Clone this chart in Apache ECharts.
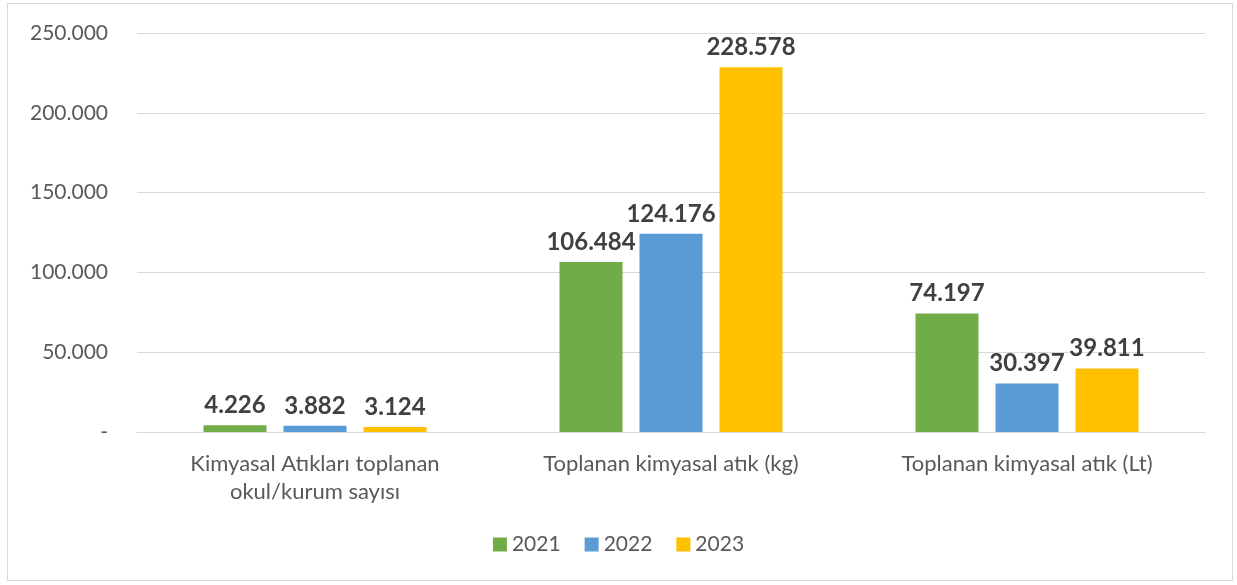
<!DOCTYPE html>
<html lang="tr">
<head>
    <meta charset="UTF-8"/>
    <title>Kimyasal atık</title>
    <script src="https://cdn.jsdelivr.net/npm/echarts@6/dist/echarts.min.js"></script>
    <style>
        body { margin: 0; background: #fff; }
        #frame {
            position: absolute; left: 7px; top: 3px; width: 1226px; height: 578px;
            border: 1px solid #d9d9d9; box-sizing: border-box;
        }
        #chart { position: absolute; left: 0; top: 0; width: 1237px; height: 585px; }
    </style>
</head>
<body>
<div id="frame"></div>
<div id="chart"></div>
<script>
    const categories = ['Kimyasal Atıkları toplanan\nokul/kurum sayısı', 'Toplanan kimyasal atık (kg)', 'Toplanan kimyasal atık (Lt)'];
    const years = ['2021', '2022', '2023'];
    const values2021 = [4226, 106484, 74197];
    const values2022 = [3882, 124176, 30397];
    const values2023 = [3124, 228578, 39811];
    const colors = ['#70ad47', '#5b9bd5', '#ffc000'];

    const font = 'Lato, "Open Sans", sans-serif';

    function fmt(v) {
        if (v === 0) return '-';
        return String(v).replace(/\B(?=(\d{3})+(?!\d))/g, '.');
    }

    const chart = echarts.init(document.getElementById('chart'));
    const seriesData = [values2021, values2022, values2023];
    chart.setOption({
        animation: false,
        textStyle: {fontFamily: font},
        grid: {left: 137, right: 32, top: 33, bottom: 153, containLabel: false},
        legend: {
            data: years,
            bottom: 25,
            left: 'center',
            itemWidth: 14,
            itemHeight: 14,
            itemGap: 24,
            icon: 'rect',
            textStyle: {fontSize: 21, color: '#595959', fontFamily: font}
        },
        xAxis: {
            type: 'category',
            data: categories,
            axisLine: {lineStyle: {color: '#d9d9d9'}},
            axisTick: {show: false},
            axisLabel: {fontSize: 22, color: '#595959', lineHeight: 28, margin: 18, fontFamily: font}
        },
        yAxis: {
            type: 'value',
            min: 0,
            max: 250000,
            interval: 50000,
            axisLine: {show: false},
            axisTick: {show: false},
            splitLine: {lineStyle: {color: '#d9d9d9'}},
            axisLabel: {fontSize: 21, color: '#595959', margin: 29, formatter: fmt, fontFamily: font}
        },
        series: years.map((y, i) => ({
            name: y,
            type: 'bar',
            data: seriesData[i],
            barWidth: 63,
            barGap: '27%',
            itemStyle: {color: colors[i]},
            label: {
                show: true,
                position: 'top',
                distance: 8,
                fontSize: 24,
                fontWeight: 'bold',
                color: '#404040',
                fontFamily: font,
                formatter: p => fmt(p.value)
            }
        }))
    });
</script>
</body>
</html>
